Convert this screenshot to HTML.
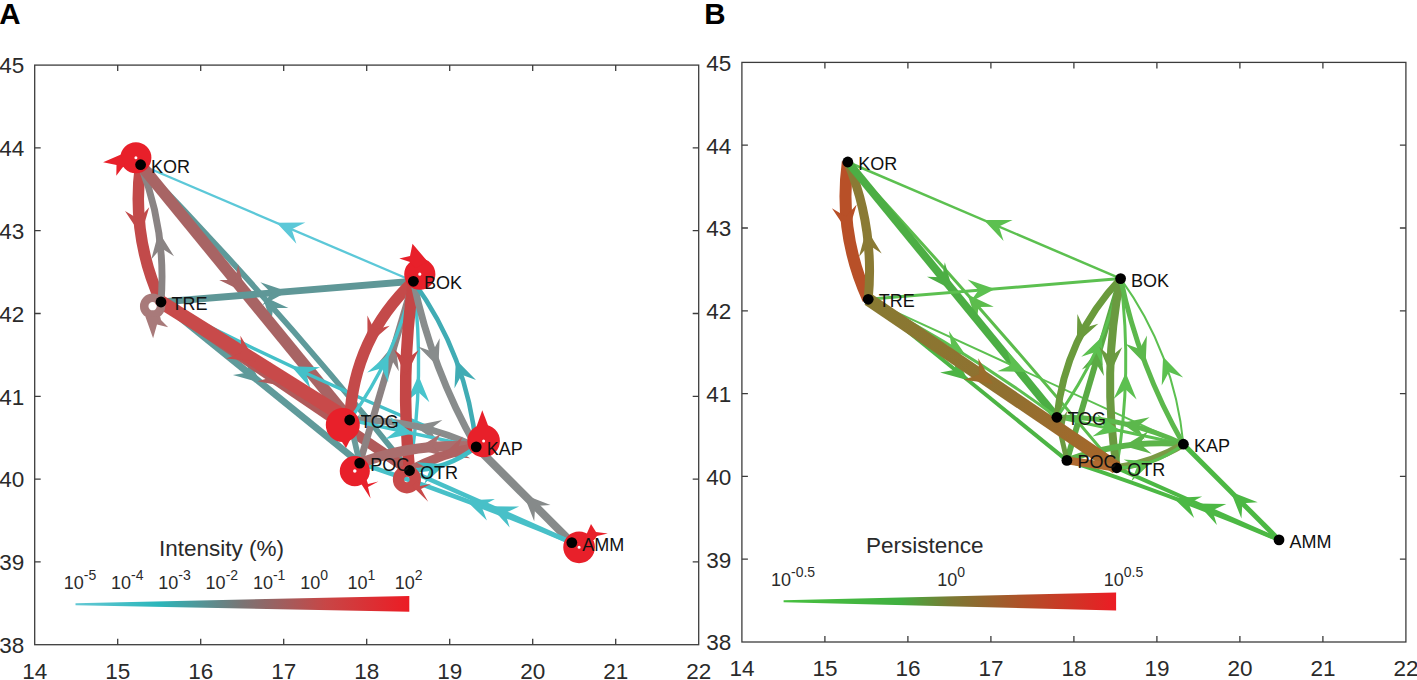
<!DOCTYPE html>
<html><head><meta charset="utf-8"><style>
html,body{margin:0;padding:0;background:#fff;width:1417px;height:680px;overflow:hidden}
svg{display:block;font-family:'Liberation Sans',sans-serif}
</style></head><body>
<svg width="1417" height="680" viewBox="0 0 1417 680">
<text x="-0.8" y="24" font-size="29.5" font-weight="bold" fill="#000">A</text>
<text x="704.3" y="23.8" font-size="29.5" font-weight="bold" fill="#000">B</text>
<rect x="34.7" y="65.1" width="664" height="579.6" fill="none" stroke="#3c3c3c" stroke-width="1.3"/>
<path d="M117.7,644.7V638.7M117.7,65.1V71.1M200.7,644.7V638.7M200.7,65.1V71.1M283.7,644.7V638.7M283.7,65.1V71.1M366.7,644.7V638.7M366.7,65.1V71.1M449.7,644.7V638.7M449.7,65.1V71.1M532.7,644.7V638.7M532.7,65.1V71.1M615.7,644.7V638.7M615.7,65.1V71.1M34.7,561.9H40.7M698.7,561.9H692.7M34.7,479.1H40.7M698.7,479.1H692.7M34.7,396.3H40.7M698.7,396.3H692.7M34.7,313.5H40.7M698.7,313.5H692.7M34.7,230.7H40.7M698.7,230.7H692.7M34.7,147.9H40.7M698.7,147.9H692.7" stroke="#3c3c3c" stroke-width="1.3" fill="none"/>
<text x="34.7" y="678.5" text-anchor="middle" font-size="22.5" fill="#2a2a2a">14</text>
<text x="117.7" y="678.5" text-anchor="middle" font-size="22.5" fill="#2a2a2a">15</text>
<text x="200.7" y="678.5" text-anchor="middle" font-size="22.5" fill="#2a2a2a">16</text>
<text x="283.7" y="678.5" text-anchor="middle" font-size="22.5" fill="#2a2a2a">17</text>
<text x="366.7" y="678.5" text-anchor="middle" font-size="22.5" fill="#2a2a2a">18</text>
<text x="449.7" y="678.5" text-anchor="middle" font-size="22.5" fill="#2a2a2a">19</text>
<text x="532.7" y="678.5" text-anchor="middle" font-size="22.5" fill="#2a2a2a">20</text>
<text x="615.7" y="678.5" text-anchor="middle" font-size="22.5" fill="#2a2a2a">21</text>
<text x="698.7" y="678.5" text-anchor="middle" font-size="22.5" fill="#2a2a2a">22</text>
<text x="24.2" y="653" text-anchor="end" font-size="22.5" fill="#2a2a2a">38</text>
<text x="24.2" y="570.2" text-anchor="end" font-size="22.5" fill="#2a2a2a">39</text>
<text x="24.2" y="487.4" text-anchor="end" font-size="22.5" fill="#2a2a2a">40</text>
<text x="24.2" y="404.6" text-anchor="end" font-size="22.5" fill="#2a2a2a">41</text>
<text x="24.2" y="321.8" text-anchor="end" font-size="22.5" fill="#2a2a2a">42</text>
<text x="24.2" y="239" text-anchor="end" font-size="22.5" fill="#2a2a2a">43</text>
<text x="24.2" y="156.2" text-anchor="end" font-size="22.5" fill="#2a2a2a">44</text>
<text x="24.2" y="73.4" text-anchor="end" font-size="22.5" fill="#2a2a2a">45</text>
<rect x="741.9" y="62.4" width="664" height="579.6" fill="none" stroke="#3c3c3c" stroke-width="1.3"/>
<path d="M824.9,642V636M824.9,62.4V68.4M907.9,642V636M907.9,62.4V68.4M990.9,642V636M990.9,62.4V68.4M1073.9,642V636M1073.9,62.4V68.4M1156.9,642V636M1156.9,62.4V68.4M1239.9,642V636M1239.9,62.4V68.4M1322.9,642V636M1322.9,62.4V68.4M741.9,559.2H747.9M1405.9,559.2H1399.9M741.9,476.4H747.9M1405.9,476.4H1399.9M741.9,393.6H747.9M1405.9,393.6H1399.9M741.9,310.8H747.9M1405.9,310.8H1399.9M741.9,228H747.9M1405.9,228H1399.9M741.9,145.2H747.9M1405.9,145.2H1399.9" stroke="#3c3c3c" stroke-width="1.3" fill="none"/>
<text x="741.9" y="675.8" text-anchor="middle" font-size="22.5" fill="#2a2a2a">14</text>
<text x="824.9" y="675.8" text-anchor="middle" font-size="22.5" fill="#2a2a2a">15</text>
<text x="907.9" y="675.8" text-anchor="middle" font-size="22.5" fill="#2a2a2a">16</text>
<text x="990.9" y="675.8" text-anchor="middle" font-size="22.5" fill="#2a2a2a">17</text>
<text x="1073.9" y="675.8" text-anchor="middle" font-size="22.5" fill="#2a2a2a">18</text>
<text x="1156.9" y="675.8" text-anchor="middle" font-size="22.5" fill="#2a2a2a">19</text>
<text x="1239.9" y="675.8" text-anchor="middle" font-size="22.5" fill="#2a2a2a">20</text>
<text x="1322.9" y="675.8" text-anchor="middle" font-size="22.5" fill="#2a2a2a">21</text>
<text x="1405.9" y="675.8" text-anchor="middle" font-size="22.5" fill="#2a2a2a">22</text>
<text x="731.4" y="650.3" text-anchor="end" font-size="22.5" fill="#2a2a2a">38</text>
<text x="731.4" y="567.5" text-anchor="end" font-size="22.5" fill="#2a2a2a">39</text>
<text x="731.4" y="484.7" text-anchor="end" font-size="22.5" fill="#2a2a2a">40</text>
<text x="731.4" y="401.9" text-anchor="end" font-size="22.5" fill="#2a2a2a">41</text>
<text x="731.4" y="319.1" text-anchor="end" font-size="22.5" fill="#2a2a2a">42</text>
<text x="731.4" y="236.3" text-anchor="end" font-size="22.5" fill="#2a2a2a">43</text>
<text x="731.4" y="153.5" text-anchor="end" font-size="22.5" fill="#2a2a2a">44</text>
<text x="731.4" y="70.7" text-anchor="end" font-size="22.5" fill="#2a2a2a">45</text>
<defs><linearGradient id="gA" x1="75.5" y1="0" x2="409.3" y2="0" gradientUnits="userSpaceOnUse"><stop offset="0" stop-color="#64c8d4"/><stop offset="0.25" stop-color="#2ab6ba"/><stop offset="0.5" stop-color="#7a7474"/><stop offset="0.75" stop-color="#c84646"/><stop offset="1" stop-color="#ec1c24"/></linearGradient><linearGradient id="gB" x1="783.6" y1="0" x2="1116.1" y2="0" gradientUnits="userSpaceOnUse"><stop offset="0" stop-color="#48c040"/><stop offset="0.35" stop-color="#40b040"/><stop offset="0.5" stop-color="#7a7a34"/><stop offset="0.72" stop-color="#b05028"/><stop offset="1" stop-color="#ec1c24"/></linearGradient><linearGradient id="gBand" x1="867.9" y1="298.8" x2="1116.5" y2="467.9" gradientUnits="userSpaceOnUse"><stop offset="0" stop-color="#887a32"/><stop offset="0.55" stop-color="#907030"/><stop offset="1" stop-color="#a8662a"/></linearGradient></defs>
<path d="M75.5,603.2L409.3,596L409.3,611.8L75.5,605.2Z" fill="url(#gA)"/>
<path d="M783.6,600.2L1116.1,592.4L1116.1,610.4L783.6,602.2Z" fill="url(#gB)"/>
<text x="159" y="555.6" font-size="22.5" fill="#2a2a2a">Intensity (%)</text>
<text x="866" y="553" font-size="22.5" fill="#2a2a2a">Persistence</text>
<text x="63.7" y="589" font-size="18" fill="#2a2a2a">10<tspan font-size="14" dy="-9">-5</tspan></text>
<text x="111" y="589" font-size="18" fill="#2a2a2a">10<tspan font-size="14" dy="-9">-4</tspan></text>
<text x="158.3" y="589" font-size="18" fill="#2a2a2a">10<tspan font-size="14" dy="-9">-3</tspan></text>
<text x="205.6" y="589" font-size="18" fill="#2a2a2a">10<tspan font-size="14" dy="-9">-2</tspan></text>
<text x="252.9" y="589" font-size="18" fill="#2a2a2a">10<tspan font-size="14" dy="-9">-1</tspan></text>
<text x="300.2" y="589" font-size="18" fill="#2a2a2a">10<tspan font-size="14" dy="-9">0</tspan></text>
<text x="347.5" y="589" font-size="18" fill="#2a2a2a">10<tspan font-size="14" dy="-9">1</tspan></text>
<text x="394.8" y="589" font-size="18" fill="#2a2a2a">10<tspan font-size="14" dy="-9">2</tspan></text>
<text x="771" y="585.8" font-size="18" fill="#2a2a2a">10<tspan font-size="14" dy="-9">-0.5</tspan></text>
<text x="937.2" y="585.8" font-size="18" fill="#2a2a2a">10<tspan font-size="14" dy="-9">0</tspan></text>
<text x="1103.7" y="585.8" font-size="18" fill="#2a2a2a">10<tspan font-size="14" dy="-9">0.5</tspan></text>
<path d="M413.4,281.3Q277,223 140.6,164.7" fill="none" stroke="#5cc8d8" stroke-width="2.3"/>
<path d="M276.6,222.8L305.4,222.6L291.7,229.3L296.4,243.8Z" fill="#5cc8d8"/>
<path d="M140.6,164.7Q131,236.3 161,302" fill="none" stroke="#c24a4a" stroke-width="11.5"/>
<path d="M141,235.3L125,210.9L138.6,219.1L149.2,207.3Z" fill="#c24a4a"/>
<path d="M161,302Q166.7,231 140.6,164.7" fill="none" stroke="#8a8484" stroke-width="6.9"/>
<path d="M158.7,231.7L174,256.2L161.1,247.9L151.2,259.6Z" fill="#8a8484"/>
<path d="M409.5,470.5Q282.4,311.1 140.6,164.7" fill="none" stroke="#5e9a9a" stroke-width="5.8"/>
<path d="M262.2,295.7L288.4,307.9L273.1,308L271.2,323.1Z" fill="#5e9a9a"/>
<path d="M140.6,164.7Q245.1,292.3 349.7,420" fill="none" stroke="#a86464" stroke-width="11.5"/>
<path d="M245.5,292.7L219.2,280L235.1,280L238.1,264.5Z" fill="#a86464"/>
<path d="M161,302Q287.2,291.6 413.4,281.3" fill="none" stroke="#5f9797" stroke-width="6.9"/>
<path d="M287.7,291.6L262.3,305.2L271.4,292.9L260.4,282.3Z" fill="#5f9797"/>
<path d="M476.2,446.9Q315.1,382 161,302" fill="none" stroke="#44c0c8" stroke-width="3.4"/>
<path d="M291.2,366.3L320.1,367.2L306.1,373.3L310.3,388Z" fill="#44c0c8"/>
<path d="M161,302Q260.4,382.6 359.7,463.1" fill="none" stroke="#5f9a9a" stroke-width="6.9"/>
<path d="M260.8,382.9L232.9,375.1L248,372.5L247.4,357.2Z" fill="#5f9a9a"/>
<path d="M161,302Q285.3,386.2 409.5,470.5" fill="none" stroke="#b05a5a" stroke-width="10.3"/>
<path d="M285.7,386.5L257.2,381.3L272.1,377.3L270.3,362Z" fill="#b05a5a"/>
<path d="M161,302Q255.4,361 349.7,420" fill="none" stroke="#c84a4a" stroke-width="13.8"/>
<path d="M255.8,361.3L226.2,358.6L241.8,352.5L240.4,335.8Z" fill="#c84a4a"/>
<path d="M413.4,281.3Q353.8,337.9 349.7,420" fill="none" stroke="#c44a4a" stroke-width="11.5"/>
<path d="M367.5,344.7L367.4,315.5L374.3,329.8L389.7,325.8Z" fill="#c44a4a"/>
<path d="M359.7,463.1Q386.6,372.2 413.4,281.3" fill="none" stroke="#8c8282" stroke-width="6.9"/>
<path d="M395.3,342.6L398.8,371.3L390.7,358.4L376.8,364.8Z" fill="#8c8282"/>
<path d="M409.5,470.5Q425.5,376.2 413.4,281.3" fill="none" stroke="#48c4cc" stroke-width="3.4"/>
<path d="M418.5,375.5L429.4,402.3L418.2,392L406.4,401.8Z" fill="#48c4cc"/>
<path d="M349.7,420Q395.4,357 413.4,281.3" fill="none" stroke="#48c4cc" stroke-width="3.4"/>
<path d="M388.7,353.4L388.1,382.2L381.8,368.3L367.2,372.6Z" fill="#48c4cc"/>
<path d="M413.4,281.3Q400.1,375.7 409.5,470.5" fill="none" stroke="#c44646" stroke-width="11.5"/>
<path d="M405.8,376.3L394.1,349.5L406.1,359.8L418.6,350Z" fill="#c44646"/>
<path d="M413.4,281.3Q431.6,369.1 476.2,446.9" fill="none" stroke="#888c8c" stroke-width="6.9"/>
<path d="M438.4,367.1L418.2,346.4L432.5,351.7L439.7,338.2Z" fill="#888c8c"/>
<path d="M476.2,446.9Q467.3,355.6 413.4,281.3" fill="none" stroke="#40acb4" stroke-width="4.6"/>
<path d="M455.9,359.4L476,380.1L461.7,374.7L454.5,388.2Z" fill="#40acb4"/>
<path d="M476.2,446.9Q416.2,418.3 349.7,420" fill="none" stroke="#8a8c8c" stroke-width="6.9"/>
<path d="M414.1,425.7L442.4,420L430.1,429.2L437.6,442.5Z" fill="#8a8c8c"/>
<path d="M349.7,420Q412.9,433.4 476.2,446.9" fill="none" stroke="#48c4cc" stroke-width="3.4"/>
<path d="M413.4,433.5L385.1,439.3L397.3,430.1L389.9,416.8Z" fill="#48c4cc"/>
<path d="M571.8,542.6Q524,494.7 476.2,446.9" fill="none" stroke="#868a8a" stroke-width="8"/>
<path d="M523.6,494.4L550.5,505L535.2,506L534.2,521.3Z" fill="#868a8a"/>
<path d="M571.8,542.6Q490.7,506.5 409.5,470.5" fill="none" stroke="#48c0c8" stroke-width="4.6"/>
<path d="M490.2,506.3L519.1,506.6L505.2,513L509.7,527.6Z" fill="#48c0c8"/>
<path d="M571.8,542.6Q467.4,498.6 359.7,463.1" fill="none" stroke="#48c0c8" stroke-width="4.6"/>
<path d="M466.1,500.6L494.9,499.1L481.5,506.3L486.9,520.6Z" fill="#48c0c8"/>
<path d="M476.2,446.9Q416.2,442.2 359.7,463.1" fill="none" stroke="#aa6e6e" stroke-width="10.3"/>
<path d="M416.6,448.7L441.2,433.4L432.8,446.4L444.4,456.6Z" fill="#aa6e6e"/>
<path d="M476.2,446.9Q441,453.4 409.5,470.5" fill="none" stroke="#b06262" stroke-width="9.2"/>
<path d="M441.4,456.2L462.6,436.5L456.9,450.7L470.3,458.2Z" fill="#b06262"/>
<path d="M409.5,470.5Q446.9,470 476.2,446.9" fill="none" stroke="#40bcc4" stroke-width="4.6"/>
<path d="M445.3,464.2L424.2,483.9L429.8,469.7L416.5,462.2Z" fill="#40bcc4"/>
<path d="M349.7,420Q354.7,441.6 359.7,463.1" fill="none" stroke="#6a9c9c" stroke-width="5.8"/>
<path d="M354.8,442L337.6,418.8L351.1,426L360,413.6Z" fill="#6a9c9c"/>
<circle cx="135.9" cy="157.8" r="8.5" fill="none" stroke="#e8202a" stroke-width="14"/>
<path d="M103.1,162.2L121,154.5L125,166L122.5,167.5L116.3,175.8L116.5,165Z" fill="#e8202a"/>
<circle cx="152.6" cy="306.2" r="8.4" fill="none" stroke="#a87a7a" stroke-width="8.5"/>
<path d="M153.1,338.3L145.5,317L160,316L161,320L168.2,327.2L157,324.5Z" fill="#a87a7a"/>
<circle cx="419.8" cy="274.2" r="8.6" fill="none" stroke="#e8202a" stroke-width="14"/>
<path d="M412.5,243.8L428,262L415,268L410,262L399.3,258.4L410,256Z" fill="#e8202a"/>
<circle cx="342.8" cy="425" r="8.5" fill="none" stroke="#e8202a" stroke-width="17"/>
<path d="M346,448L338,436L352,436Z" fill="#e8202a"/>
<circle cx="354.8" cy="471.1" r="8.4" fill="none" stroke="#e8202a" stroke-width="13.3"/>
<path d="M370.6,498.6L360,482L366,478L368,484L378.4,481.6L368,487Z" fill="#e8202a"/>
<circle cx="406.9" cy="479.4" r="8.4" fill="none" stroke="#c84a4a" stroke-width="11.3"/>
<path d="M428.2,501.7L412,486L418,480L420,486L431.3,483.7L421,489Z" fill="#c84a4a"/>
<circle cx="483.6" cy="441" r="8.9" fill="none" stroke="#e8202a" stroke-width="14.8"/>
<path d="M482.3,410.3L476,428L489,428Z" fill="#e8202a"/>
<circle cx="579.1" cy="547.3" r="8.7" fill="none" stroke="#e8202a" stroke-width="14.3"/>
<path d="M591,524.1L584,540L594,540L597,536L607.8,533.4L596,532Z" fill="#e8202a"/>
<circle cx="140.6" cy="164.7" r="5.4" fill="#000"/>
<circle cx="161" cy="302" r="5.4" fill="#000"/>
<circle cx="413.4" cy="281.3" r="5.4" fill="#000"/>
<circle cx="349.7" cy="420" r="5.4" fill="#000"/>
<circle cx="359.7" cy="463.1" r="5.4" fill="#000"/>
<circle cx="409.5" cy="470.5" r="5.4" fill="#000"/>
<circle cx="476.2" cy="446.9" r="5.4" fill="#000"/>
<circle cx="571.8" cy="542.6" r="5.4" fill="#000"/>
<text x="151.1" y="172.7" font-size="18" fill="#111">KOR</text>
<text x="171.5" y="310" font-size="18" fill="#111">TRE</text>
<text x="423.9" y="289.3" font-size="18" fill="#111">BOK</text>
<text x="360.2" y="428" font-size="18" fill="#111">TOG</text>
<text x="370.2" y="471.1" font-size="18" fill="#111">POC</text>
<text x="420" y="478.5" font-size="18" fill="#111">OTR</text>
<text x="486.7" y="454.9" font-size="18" fill="#111">KAP</text>
<text x="582.3" y="550.6" font-size="18" fill="#111">AMM</text>
<path d="M1120.6,278.6Q984.2,220.3 847.8,162" fill="none" stroke="#5cc050" stroke-width="2.5"/>
<path d="M983.8,220.1L1012.6,219.9L998.9,226.6L1003.6,241.1Z" fill="#5cc050"/>
<path d="M847.8,162Q838.2,233.6 868.2,299.3" fill="none" stroke="#b85028" stroke-width="12"/>
<path d="M848.2,232.6L831.9,208.2L845.8,216.4L856.7,204.6Z" fill="#b85028"/>
<path d="M868.2,299.3Q875,228.1 847.8,162" fill="none" stroke="#8a7a34" stroke-width="9"/>
<path d="M866.5,228.9L881.7,253.4L868.9,245.1L859,256.8Z" fill="#8a7a34"/>
<path d="M1116.7,467.8Q985.9,311.7 847.8,162" fill="none" stroke="#5cbc4c" stroke-width="3"/>
<path d="M967.6,294.6L993.8,306.8L978.5,306.9L976.6,322.1Z" fill="#5cbc4c"/>
<path d="M847.8,162Q952.3,289.6 1056.9,417.3" fill="none" stroke="#4cae44" stroke-width="8"/>
<path d="M952.7,290L927,276.8L942.3,277.3L944.8,262.2Z" fill="#4cae44"/>
<path d="M868.2,299.3Q994.4,288.9 1120.6,278.6" fill="none" stroke="#5cc050" stroke-width="3"/>
<path d="M994.9,288.9L969.5,302.5L978.6,290.2L967.6,279.6Z" fill="#5cc050"/>
<path d="M868.2,299.3Q1025.8,371.7 1183.4,444.2" fill="none" stroke="#5cc050" stroke-width="2"/>
<path d="M1026.3,371.9L997.4,371.3L1011.3,365.1L1007,350.4Z" fill="#5cc050"/>
<path d="M868.2,299.3Q967.6,379.9 1066.9,460.4" fill="none" stroke="#4cb444" stroke-width="4"/>
<path d="M968,380.2L940.1,372.4L955.2,369.8L954.6,354.5Z" fill="#4cb444"/>
<path d="M868.2,299.3Q967.3,350.7 1056.9,417.3" fill="none" stroke="#5cc050" stroke-width="3"/>
<path d="M965.3,354.8L936.8,350.5L951.4,346.1L949,331Z" fill="#5cc050"/>
<path d="M1120.6,278.6Q1065.2,337.1 1056.9,417.3" fill="none" stroke="#6a9a3c" stroke-width="7"/>
<path d="M1076.8,343L1077.4,314.1L1083.6,328L1098.3,323.7Z" fill="#6a9a3c"/>
<path d="M1066.9,460.4Q1093.8,369.5 1120.6,278.6" fill="none" stroke="#5aaa44" stroke-width="6"/>
<path d="M1100.4,347.2L1103.9,375.9L1095.7,363L1081.8,369.4Z" fill="#5aaa44"/>
<path d="M1116.7,467.8Q1132.7,373.5 1120.6,278.6" fill="none" stroke="#5cc050" stroke-width="3"/>
<path d="M1125.7,372.8L1136.6,399.6L1125.4,389.3L1113.6,399.1Z" fill="#5cc050"/>
<path d="M1056.9,417.3Q1102.6,354.3 1120.6,278.6" fill="none" stroke="#5cc050" stroke-width="3"/>
<path d="M1102,336.7L1102.5,365.5L1095.7,351.9L1081.3,356.8Z" fill="#5cc050"/>
<path d="M1120.6,278.6Q1101.7,372.8 1116.7,467.8" fill="none" stroke="#6a9a40" stroke-width="8"/>
<path d="M1110.2,373.5L1099.2,346.8L1110.5,357.1L1122.2,347.3Z" fill="#6a9a40"/>
<path d="M1120.6,278.6Q1138.8,366.4 1183.4,444.2" fill="none" stroke="#5cb84c" stroke-width="5"/>
<path d="M1145.6,364.4L1125.4,343.7L1139.7,349L1146.9,335.5Z" fill="#5cb84c"/>
<path d="M1183.4,444.2Q1174.5,352.9 1120.6,278.6" fill="none" stroke="#5cc050" stroke-width="2"/>
<path d="M1163.1,356.7L1183.2,377.4L1168.9,372L1161.7,385.5Z" fill="#5cc050"/>
<path d="M1183.4,444.2Q1123.4,415.6 1056.9,417.3" fill="none" stroke="#5cb84c" stroke-width="5"/>
<path d="M1121.3,423L1149.6,417.3L1137.3,426.5L1144.8,439.8Z" fill="#5cb84c"/>
<path d="M1056.9,417.3Q1120.1,430.7 1183.4,444.2" fill="none" stroke="#5cc050" stroke-width="3"/>
<path d="M1120.6,430.8L1092.3,436.6L1104.5,427.4L1097.1,414.1Z" fill="#5cc050"/>
<path d="M1279,539.9Q1231.2,492 1183.4,444.2" fill="none" stroke="#4cb844" stroke-width="5"/>
<path d="M1230.8,491.7L1257.7,502.3L1242.4,503.3L1241.4,518.6Z" fill="#4cb844"/>
<path d="M1279,539.9Q1197.9,503.8 1116.7,467.8" fill="none" stroke="#4cb844" stroke-width="4"/>
<path d="M1197.4,503.6L1226.3,503.9L1212.4,510.3L1216.9,524.9Z" fill="#4cb844"/>
<path d="M1279,539.9Q1174.6,495.9 1066.9,460.4" fill="none" stroke="#4cb844" stroke-width="4"/>
<path d="M1173.3,497.9L1202.1,496.4L1188.7,503.6L1194.1,517.9Z" fill="#4cb844"/>
<path d="M1183.4,444.2Q1123.4,439.5 1066.9,460.4" fill="none" stroke="#5cb44a" stroke-width="6"/>
<path d="M1123.8,446L1148.4,430.9L1140,443.7L1151.6,453.7Z" fill="#5cb44a"/>
<path d="M1183.4,444.2Q1152.4,462.7 1116.7,467.8" fill="none" stroke="#7a9a44" stroke-width="7"/>
<path d="M1116.7,467.8Q1154.1,467.3 1183.4,444.2" fill="none" stroke="#5cc050" stroke-width="3"/>
<path d="M1152.5,461.5L1131.4,481.2L1137,467L1123.7,459.5Z" fill="#5cc050"/>
<path d="M1056.9,417.3Q1061.9,438.9 1066.9,460.4" fill="none" stroke="#6a9a40" stroke-width="5"/>
<path d="M1062,439.3L1044.8,416.1L1058.3,423.3L1067.2,410.9Z" fill="#6a9a40"/>
<path d="M868.2,299.3Q992.5,383.5 1116.7,467.8" fill="none" stroke="url(#gBand)" stroke-width="13"/>
<path d="M992.9,383.8L963.7,379.7L979.3,374.6L978.3,358.2Z" fill="#9a6c2c"/>
<path d="M1066.9,460.4Q1091.8,464.1 1116.7,467.8" fill="none" stroke="#b06a30" stroke-width="8"/>
<circle cx="847.8" cy="162" r="5.4" fill="#000"/>
<circle cx="868.2" cy="299.3" r="5.4" fill="#000"/>
<circle cx="1120.6" cy="278.6" r="5.4" fill="#000"/>
<circle cx="1056.9" cy="417.3" r="5.4" fill="#000"/>
<circle cx="1066.9" cy="460.4" r="5.4" fill="#000"/>
<circle cx="1116.7" cy="467.8" r="5.4" fill="#000"/>
<circle cx="1183.4" cy="444.2" r="5.4" fill="#000"/>
<circle cx="1279" cy="539.9" r="5.4" fill="#000"/>
<text x="858.3" y="170" font-size="18" fill="#111">KOR</text>
<text x="878.7" y="307.3" font-size="18" fill="#111">TRE</text>
<text x="1131.1" y="286.6" font-size="18" fill="#111">BOK</text>
<text x="1067.4" y="425.3" font-size="18" fill="#111">TOG</text>
<text x="1077.4" y="468.4" font-size="18" fill="#111">POC</text>
<text x="1127.2" y="475.8" font-size="18" fill="#111">OTR</text>
<text x="1193.9" y="452.2" font-size="18" fill="#111">KAP</text>
<text x="1289.5" y="547.9" font-size="18" fill="#111">AMM</text>
</svg></body></html>
